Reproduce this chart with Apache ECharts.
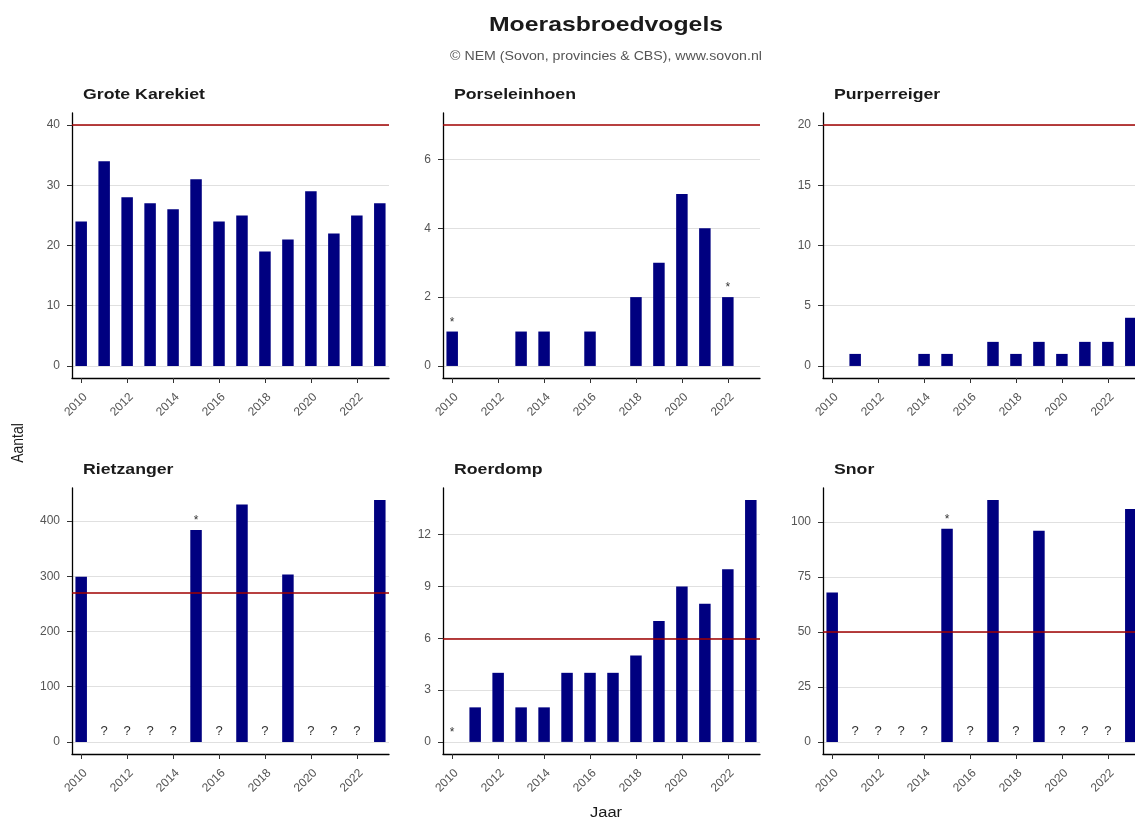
<!DOCTYPE html>
<html><head><meta charset="utf-8">
<script src="https://cdn.jsdelivr.net/npm/echarts@6/dist/echarts.min.js"></script>
<style>html,body{margin:0;padding:0;overflow:hidden;background:#fff}#c{width:1145px;height:823px}</style>
</head><body><div id="c"></div>
<script>
// ---- data ----
const years = [2010,2011,2012,2013,2014,2015,2016,2017,2018,2019,2020,2021,2022,2023];
const xTickValues = [2010,2012,2014,2016,2018,2020,2022];
const xTickLabels = ['2010','2012','2014','2016','2018','2020','2022'];

const panelNames = ['Grote Karekiet','Porseleinhoen','Purperreiger','Rietzanger','Roerdomp','Snor'];

const groteKarekiet = [24,34,28,27,26,31,24,25,19,21,29,22,25,27];
const porseleinhoen = [1,0,0,1,1,0,1,0,2,3,5,4,2,0];
const purperreiger  = [0,1,0,0,1,1,0,2,1,2,1,2,2,4];
const rietzanger    = [299,null,null,null,null,384,null,430,null,303,null,null,null,438];
const roerdomp      = [null,2,4,2,2,4,4,4,5,7,9,8,10,14];
const snor          = [68,null,null,null,null,97,null,110,null,96,null,null,null,106];

const groteKarekietNotes = ['','','','','','','','','','','','','',''];
const porseleinhoenNotes = ['*','','','','','','','','','','','','*',''];
const purperreigerNotes  = ['','','','','','','','','','','','','',''];
const rietzangerNotes    = ['','?','?','?','?','*','?','','?','','?','?','?',''];
const roerdompNotes      = ['*','','','','','','','','','','','','',''];
const snorNotes          = ['','?','?','?','?','*','?','','?','','?','?','?',''];

const referenceLevels = [40,7,20,270,6,50];

const yTicksGroteKarekiet = [0,10,20,30,40];
const yTicksPorseleinhoen = [0,2,4,6];
const yTicksPurperreiger  = [0,5,10,15,20];
const yTicksRietzanger    = [0,100,200,300,400];
const yTicksRoerdomp      = [0,3,6,9,12];
const yTicksSnor          = [0,25,50,75,100];

// ---- layout / build ----
const seriesValues = [groteKarekiet,porseleinhoen,purperreiger,rietzanger,roerdomp,snor];
const seriesNotes  = [groteKarekietNotes,porseleinhoenNotes,purperreigerNotes,rietzangerNotes,roerdompNotes,snorNotes];
const yTicks = [yTicksGroteKarekiet,yTicksPorseleinhoen,yTicksPurperreiger,yTicksRietzanger,yTicksRoerdomp,yTicksSnor];

const lefts = [72,443,823];
const tops = [113,488];
const W = 317, H = 265;
const FONT = 'Liberation Sans, Arial, sans-serif';
const SX = 1.18;

const grid = [], xAxis = [], yAxis = [], series = [], graphic = [];

graphic.push({type:'text', x:606, y:25, scaleX:SX, style:{text:'Moerasbroedvogels', font:'bold 21px '+FONT, fill:'#1a1a1a', textAlign:'center', textVerticalAlign:'middle'}});
graphic.push({type:'text', x:606, y:57, scaleX:SX, style:{text:'\u00a9 NEM (Sovon, provincies & CBS), www.sovon.nl', font:'12px '+FONT, fill:'#555', textAlign:'center', textVerticalAlign:'middle'}});
graphic.push({type:'text', x:18, y:443, rotation:Math.PI/2, scaleY:SX, style:{text:'Aantal', font:'14px '+FONT, fill:'#1a1a1a', textAlign:'center', textVerticalAlign:'middle'}});
graphic.push({type:'text', x:606, y:813, scaleX:SX, style:{text:'Jaar', font:'14px '+FONT, fill:'#1a1a1a', textAlign:'center', textVerticalAlign:'middle'}});

for (let i = 0; i < 6; i++) {
  const col = i % 3, row = Math.floor(i / 3);
  const vals = seriesValues[i], notes = seriesNotes[i];
  let hi = referenceLevels[i];
  vals.forEach(v => { if (v != null && v > hi) hi = v; });
  const yMax = hi * 1.05, yMin = -hi * 0.05;

  grid.push({left: lefts[col], top: tops[row], width: W, height: H + row, containLabel: false});
  graphic.push({type:'text', x: lefts[col] + 11, y: tops[row] - 18, scaleX:SX, style:{text: panelNames[i], font:'bold 15px '+FONT, fill:'#1a1a1a', textAlign:'left', textVerticalAlign:'middle'}});

  xAxis.push({
    type:'value', gridIndex:i, min:2009.6, max:2023.4,
    axisLine:{onZero:false, lineStyle:{color:'#000', width:1.3}},
    axisTick:{show:true, length:5, customValues:xTickValues, lineStyle:{color:'#333'}},
    axisLabel:{customValues:xTickValues, rotate:45, margin:13, align:'right', verticalAlign:'top',
      color:'#555', fontSize:12, fontFamily:FONT,
      formatter: v => xTickLabels[xTickValues.indexOf(Math.round(v))] || ''},
    splitLine:{show:false}
  });
  yAxis.push({
    type:'value', gridIndex:i, min:yMin, max:yMax,
    axisLine:{show:true, onZero:false, lineStyle:{color:'#000', width:1.3}},
    axisTick:{show:true, length:5, customValues:yTicks[i], lineStyle:{color:'#333'}},
    axisLabel:{customValues:yTicks[i], margin:12, color:'#555', fontSize:12, fontFamily:FONT},
    splitLine:{show:true, lineStyle:{color:'#e0e0e0', width:1}}
  });
  series.push({
    type:'bar', xAxisIndex:i, yAxisIndex:i, barWidth:11.5,
    itemStyle:{color:'#000080'},
    data: years.map((y, k) => {
      const note = notes[k];
      const item = {value:[y, vals[k] == null ? (note ? 0 : null) : vals[k]]};
      if (note) item.label = {show:true, position:'top', distance: note === '?' ? 4 : 3, formatter: note,
        color:'#333', fontSize: note === '?' ? 13 : 12, fontFamily:FONT};
      return item;
    }),
    markLine:{silent:true, symbol:'none', label:{show:false},
      lineStyle:{color:'#a00000', width:1.6, type:'solid'},
      data:[{yAxis: referenceLevels[i]}]},
    animation:false
  });
}

const chart = echarts.init(document.getElementById('c'), null, {renderer:'canvas'});
chart.setOption({animation:false, backgroundColor:'#fff', grid, xAxis, yAxis, series, graphic});
</script>
</body></html>
